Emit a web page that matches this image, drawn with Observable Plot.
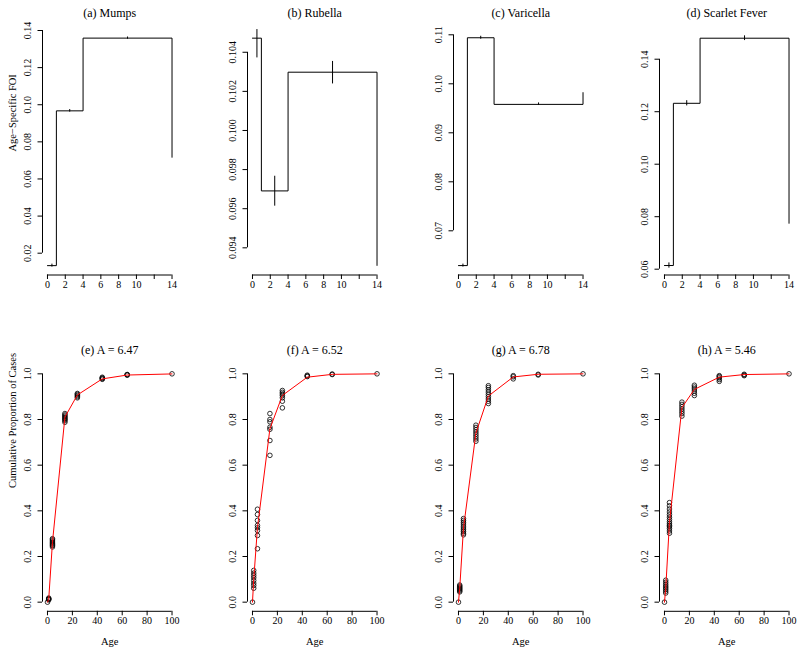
<!DOCTYPE html>
<html><head><meta charset="utf-8">
<script src="https://cdn.jsdelivr.net/npm/d3@7"></script>
<script src="https://cdn.jsdelivr.net/npm/@observablehq/plot@0.6"></script>
<style>
body{margin:0;background:#fff;}
#fig{position:relative;width:799px;height:654px;overflow:hidden;background:#fff;}
#fig svg{position:absolute;}
#fig svg, #fig svg text{font-family:"Liberation Serif","Times New Roman",Times,serif !important;}
</style></head><body><div id="fig"></div>
<script>
// ---------- data ----------
const topTitles = ["(a) Mumps", "(b) Rubella", "(c) Varicella", "(d) Scarlet Fever"];
const bottomTitles = ["(e) A = 6.47", "(f) A = 6.52", "(g) A = 6.78", "(h) A = 5.46"];

const stepAges = [0, 1, 4, 14];
const foiMumps     = [0.0133, 0.0967, 0.1359, 0.0717];
const foiRubella   = [0.10472, 0.09691, 0.10298, 0.09310];
const foiVaricella = [0.0629, 0.1094, 0.0958, 0.0982];
const foiScarlet   = [0.0614, 0.1232, 0.1480, 0.0775];

const ciMid = [0.5, 2.5, 9];
const ciMumpsLo = [0.0125, 0.0960, 0.1353],   ciMumpsHi = [0.0141, 0.0974, 0.1365];
const ciRubellaLo = [0.10371, 0.09613, 0.10238], ciRubellaHi = [0.10516, 0.09766, 0.10353];
const ciVaricellaLo = [0.0626, 0.1091, 0.0956], ciVaricellaHi = [0.0632, 0.1097, 0.0961];
const ciScarletLo = [0.0604, 0.1222, 0.1471],  ciScarletHi = [0.0624, 0.1242, 0.1489];

const topXTicks = [0, 2, 4, 6, 8, 10, 12, 14];
const topXLabels = ["0", "2", "4", "6", "8", "10", "", "14"];
const yTicksMumps = [0.02, 0.04, 0.06, 0.08, 0.10, 0.12, 0.14];
const yLabelsMumps = ["0.02", "0.04", "0.06", "0.08", "0.10", "0.12", "0.14"];
const yTicksRubella = [0.094, 0.096, 0.098, 0.100, 0.102, 0.104];
const yLabelsRubella = ["0.094", "0.096", "0.098", "0.100", "0.102", "0.104"];
const yTicksVaricella = [0.07, 0.08, 0.09, 0.10, 0.11];
const yLabelsVaricella = ["0.07", "0.08", "0.09", "0.10", "0.11"];
const yTicksScarlet = [0.06, 0.08, 0.10, 0.12, 0.14];
const yLabelsScarlet = ["0.06", "0.08", "0.10", "0.12", "0.14"];
const topYDomains = [[0.00825, 0.14135], [0.09261, 0.10524], [0.06098, 0.11139], [0.05779, 0.15189]];

// fitted cumulative proportion at the age-group boundaries (red line)
const cumAges = [0, 1, 4, 14, 24, 44, 64, 100];
const cumMumps     = [0, 0.0132, 0.2617, 0.8104, 0.9074, 0.9779, 0.9947, 0.9996];
const cumRubella   = [0, 0.0994, 0.3266, 0.7596, 0.9053, 0.9853, 0.9977, 0.9999];
const cumVaricella = [0, 0.0610, 0.3237, 0.7405, 0.9028, 0.9864, 0.9981, 0.9999];
const cumScarlet   = [0, 0.0596, 0.3501, 0.8521, 0.9318, 0.9855, 0.9969, 0.9998];

const obsAges = [0, 1, 4, 14, 24, 44, 64, 100];
const obsMumps = [
  [0],
  [0.010, 0.013, 0.015, 0.018],
  [0.242, 0.248, 0.253, 0.258, 0.263, 0.268, 0.273, 0.278],
  [0.788, 0.795, 0.800, 0.805, 0.810, 0.815, 0.820, 0.826],
  [0.895, 0.900, 0.905, 0.910, 0.914],
  [0.976, 0.979, 0.982, 0.985],
  [0.994, 0.996, 0.997],
  [1.0]
];
const obsRubella = [
  [0],
  [0.061, 0.073, 0.083, 0.095, 0.107, 0.117, 0.127, 0.139],
  [0.234, 0.292, 0.314, 0.326, 0.336, 0.358, 0.384, 0.407],
  [0.643, 0.708, 0.757, 0.766, 0.790, 0.800, 0.826],
  [0.851, 0.880, 0.895, 0.905, 0.912, 0.919, 0.927],
  [0.988, 0.991, 0.994],
  [0.997, 0.999],
  [1.0]
];
const obsVaricella = [
  [0],
  [0.045, 0.050, 0.055, 0.060, 0.065, 0.070, 0.075],
  [0.295, 0.302, 0.310, 0.317, 0.325, 0.333, 0.342, 0.350, 0.358, 0.366],
  [0.705, 0.715, 0.725, 0.735, 0.745, 0.755, 0.765, 0.775],
  [0.870, 0.880, 0.890, 0.900, 0.910, 0.920, 0.930, 0.940, 0.948],
  [0.978, 0.987, 0.992],
  [0.995, 0.998],
  [1.0]
];
const obsScarlet = [
  [0],
  [0.040, 0.048, 0.056, 0.063, 0.070, 0.078, 0.087, 0.096],
  [0.302, 0.312, 0.322, 0.330, 0.336, 0.343, 0.352, 0.362, 0.372, 0.383, 0.395, 0.408, 0.422, 0.436],
  [0.815, 0.826, 0.836, 0.846, 0.856, 0.866, 0.876],
  [0.905, 0.915, 0.925, 0.934, 0.942, 0.950],
  [0.967, 0.975, 0.982, 0.988, 0.992],
  [0.992, 0.995, 0.998],
  [1.0]
];

const botXTicks = [0, 20, 40, 60, 80, 100];
const botXLabels = ["0", "20", "40", "60", "80", "100"];
const botYTicks = [0, 0.2, 0.4, 0.6, 0.8, 1.0];
const botYLabels = ["0.0", "0.2", "0.4", "0.6", "0.8", "1.0"];

// ---------- layout ----------
const regionLeft = [42, 247.3, 453.4, 658.7];
const ML = 42, regionW = 134.5, MR = 6;
const FONT = "Liberation Serif";

const topSets = [
  {foi: foiMumps, lo: ciMumpsLo, hi: ciMumpsHi, yt: yTicksMumps, yl: yLabelsMumps},
  {foi: foiRubella, lo: ciRubellaLo, hi: ciRubellaHi, yt: yTicksRubella, yl: yLabelsRubella},
  {foi: foiVaricella, lo: ciVaricellaLo, hi: ciVaricellaHi, yt: yTicksVaricella, yl: yLabelsVaricella},
  {foi: foiScarlet, lo: ciScarletLo, hi: ciScarletHi, yt: yTicksScarlet, yl: yLabelsScarlet}
];
const botSets = [
  {cum: cumMumps, obs: obsMumps},
  {cum: cumRubella, obs: obsRubella},
  {cum: cumVaricella, obs: obsVaricella},
  {cum: cumScarlet, obs: obsScarlet}
];

function axisMarks(xdom, ydom, xt, xl, yt, yl) {
  return [
    Plot.ruleX([xdom[0]], {y1: yt[0], y2: yt[yt.length - 1], stroke: "black"}),
    Plot.ruleY([ydom[0]], {x1: xt[0], x2: xt[xt.length - 1], stroke: "black"}),
    Plot.axisX({ticks: xt, tickSize: 4.5, tickFormat: () => "", label: null}),
    Plot.axisY({ticks: yt, tickSize: 4.5, tickFormat: () => "", label: null}),
    Plot.text(xt.map((v, i) => ({v, t: xl[i]})), {x: "v", text: "t", frameAnchor: "bottom", dy: 13, fontSize: 10, fontFamily: FONT}),
    Plot.text(yt.map((v, i) => ({v, t: yl[i]})), {y: "v", text: "t", frameAnchor: "left", dx: -15, rotate: -90, textAnchor: "middle", fontSize: 10, fontFamily: FONT})
  ];
}

const fig = document.getElementById("fig");

topSets.forEach((s, i) => {
  const xdom = [-0.56, 14.56];
  const ydom = topYDomains[i];
  const steps = stepAges.map((a, j) => ({a, f: s.foi[j]}));
  const cis = ciMid.map((m, j) => ({m, lo: s.lo[j], hi: s.hi[j]}));
  const marks = [
    ...axisMarks(xdom, ydom, topXTicks, topXLabels, s.yt, s.yl),
    Plot.line(steps, {x: "a", y: "f", curve: "step-after", stroke: "black", strokeWidth: 1}),
    Plot.ruleX(cis, {x: "m", y1: "lo", y2: "hi", stroke: "black", strokeWidth: 1}),
    Plot.text([topTitles[i]], {frameAnchor: "top", dy: -19.2, fontSize: 12, fontFamily: FONT})
  ];
  if (i === 0) marks.push(Plot.text(["Age\u2212Specific FOI"], {frameAnchor: "left", dx: -30, rotate: -90, fontSize: 10.5, fontFamily: FONT}));
  const p = Plot.plot({
    width: ML + regionW + MR, height: 305,
    marginLeft: ML, marginRight: MR, marginTop: 27.5, marginBottom: 30.5,
    x: {domain: xdom}, y: {domain: ydom},
    style: {fontFamily: FONT, fontSize: "10px", background: "transparent", color: "black"},
    marks
  });
  p.style.left = (regionLeft[i] - ML) + "px";
  p.style.top = "0px";
  fig.appendChild(p);
});

botSets.forEach((s, i) => {
  const xdom = [-4, 104];
  const ydom = [-0.04, 1.04];
  const curve = cumAges.map((a, j) => ({a, v: s.cum[j]}));
  const pts = obsAges.flatMap((a, j) => s.obs[j].map(v => ({a, v})));
  const marks = [
    ...axisMarks(xdom, ydom, botXTicks, botXLabels, botYTicks, botYLabels),
    Plot.dot(pts, {x: "a", y: "v", r: 2.3, stroke: "black", fill: "none", strokeWidth: 0.8}),
    Plot.line(curve, {x: "a", y: "v", stroke: "#ff0000", strokeWidth: 1}),
    Plot.text([bottomTitles[i]], {frameAnchor: "top", dy: -19.2, fontSize: 12, fontFamily: FONT}),
    Plot.text(["Age"], {frameAnchor: "bottom", dy: 34, fontSize: 10.5, fontFamily: FONT})
  ];
  if (i === 0) marks.push(Plot.text(["Cumulative Proportion of Cases"], {frameAnchor: "left", dx: -30, rotate: -90, fontSize: 10.5, fontFamily: FONT}));
  const p = Plot.plot({
    width: ML + regionW + MR, height: 344,
    marginLeft: ML, marginRight: MR, marginTop: 54.2, marginBottom: 43.2,
    x: {domain: xdom}, y: {domain: ydom},
    style: {fontFamily: FONT, fontSize: "10px", background: "transparent", color: "black"},
    marks
  });
  p.style.left = (regionLeft[i] - ML) + "px";
  p.style.top = "310px";
  fig.appendChild(p);
});
</script></body></html>
